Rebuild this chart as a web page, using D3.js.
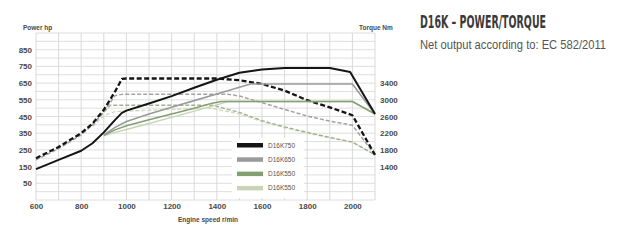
<!DOCTYPE html>
<html>
<head>
<meta charset="utf-8">
<script src="https://cdn.jsdelivr.net/npm/d3@7"></script>
<style>
  html, body { margin: 0; padding: 0; background: #fff; }
  svg { display: block; font-family: 'Liberation Sans', Arial, sans-serif; }
</style>
</head>
<body>
<div id="chart"></div>
<script>
// engine speed (r/min) / value pairs
const power750 = [[600, 135], [700, 190], [800, 245], [850, 290], [900, 355], [950, 430], [980, 472], [1000, 485],
  [1100, 528], [1200, 572], [1300, 622], [1400, 670], [1500, 712], [1600, 732], [1700, 740], [1800, 740],
  [1900, 740], [1990, 716], [2100, 465]]
const power650 = [[900, 340], [950, 385], [1000, 420], [1100, 465], [1200, 505], [1300, 545], [1400, 585],
  [1500, 625], [1550, 645], [2000, 645], [2100, 465]]
const power550a = [[900, 338], [950, 370], [1000, 395], [1100, 430], [1200, 465], [1300, 500], [1380, 530],
  [1420, 540], [2000, 540], [2100, 465]]
const power550b = [[900, 335], [950, 355], [1000, 372], [1100, 408], [1200, 445], [1300, 482], [1400, 520],
  [1450, 540], [2000, 540], [2100, 465]]

const torque750 = [[600, 1600], [700, 1870], [800, 2200], [850, 2430], [900, 2760], [950, 3200], [980, 3500],
  [1000, 3510], [1400, 3510], [1500, 3470], [1600, 3380], [1700, 3220], [1800, 2990], [1900, 2820],
  [2000, 2630], [2100, 1680]]
const torque650 = [[600, 1560], [700, 1830], [800, 2160], [850, 2400], [900, 2720], [950, 3100], [980, 3130],
  [1450, 3130], [1500, 3090], [1600, 2930], [1700, 2770], [1800, 2610], [1900, 2490], [2000, 2390], [2100, 1680]]
const torque550a = [[850, 2380], [900, 2700], [930, 2870], [1380, 2870], [1500, 2700], [1600, 2500],
  [1700, 2350], [1800, 2220], [1900, 2100], [2000, 1990], [2100, 1680]]
const torque550b = [[850, 2360], [900, 2620], [950, 2720], [1100, 2750], [1370, 2800], [1450, 2720],
  [1500, 2660], [1600, 2480], [1700, 2330], [1800, 2200], [1900, 2090], [2000, 1980], [2100, 1680]]

const seriesNames = ['D16K750', 'D16K650', 'D16K550', 'D16K550']
const seriesColors = ['#151515', '#9b9b9b', '#849f72', '#c9d4b6']

const rpmTicks = [600, 800, 1000, 1200, 1400, 1600, 1800, 2000]
const powerTicks = [50, 150, 250, 350, 450, 550, 650, 750, 850]
const torqueTicks = [1400, 1800, 2200, 2600, 3000, 3400]

const width = 640
const height = 240

const svg = d3.select('#chart')
  .append('svg')
  .attr('width', width)
  .attr('height', height)

const x = d3.scaleLinear().domain([600, 2100]).range([36, 375])
const yP = d3.scaleLinear().domain([-50, 950]).range([200, 33])
const yT = d3.scaleLinear().domain([600, 4600]).range([200, 33])

// grid
const grid = svg.append('g')
grid.selectAll('line.v')
  .data(d3.range(600, 2101, 100))
  .join('line')
  .attr('x1', d => x(d)).attr('x2', d => x(d))
  .attr('y1', yP(-50)).attr('y2', yP(950))
  .attr('stroke', '#cfcfcf').attr('stroke-width', 0.8)
grid.selectAll('line.h')
  .data(d3.range(-50, 951, 50))
  .join('line')
  .attr('x1', x(600)).attr('x2', x(2100))
  .attr('y1', d => yP(d)).attr('y2', d => yP(d))
  .attr('stroke', '#d6d6d6').attr('stroke-width', 0.8)

// axes, labels only
const styleAxis = g => {
  g.select('.domain').remove()
  g.selectAll('.tick line').remove()
  g.selectAll('text')
    .attr('font-family', "'Liberation Sans', Arial, sans-serif")
    .attr('font-size', 8)
    .attr('font-weight', 'bold')
    .attr('fill', '#4a4a4a')
}

svg.append('g')
  .attr('transform', 'translate(32, 0)')
  .call(d3.axisLeft(yP).tickValues(powerTicks).tickFormat(d3.format('d')).tickSize(0).tickPadding(0))
  .call(styleAxis)

svg.append('g')
  .attr('transform', 'translate(380, 0)')
  .call(d3.axisRight(yT).tickValues(torqueTicks).tickFormat(d3.format('d')).tickSize(0).tickPadding(0))
  .call(styleAxis)

svg.append('g')
  .attr('transform', 'translate(0, 203)')
  .call(d3.axisBottom(x).tickValues(rpmTicks).tickFormat(d3.format('d')).tickSize(0).tickPadding(0))
  .call(styleAxis)

const smallText = (tx, ty, str, anchor) => svg.append('text')
  .attr('x', tx).attr('y', ty)
  .attr('text-anchor', anchor || 'start')
  .attr('font-size', 6.5)
  .attr('font-weight', 'bold')
  .attr('fill', '#4a4a4a')
  .text(str)

smallText(23, 30, 'Power hp')
smallText(359, 30, 'Torque Nm')
smallText(178, 222, 'Engine speed r/min')

// curves
const lineP = d3.line().x(d => x(d[0])).y(d => yP(d[1]))
const lineT = d3.line().x(d => x(d[0])).y(d => yT(d[1]))

const torques = [
  { data: torque550b, color: '#cfd8bf', width: 1.3, dash: '4,2' },
  { data: torque550a, color: '#9fb08c', width: 1.3, dash: '4,2' },
  { data: torque650, color: '#a3a3a3', width: 1.5, dash: '4,2' },
  { data: torque750, color: seriesColors[0], width: 2.3, dash: '5,2.5' }
]
const powers = [
  { data: power550b, color: seriesColors[3], width: 1.4 },
  { data: power550a, color: seriesColors[2], width: 1.5 },
  { data: power650, color: seriesColors[1], width: 1.6 },
  { data: power750, color: seriesColors[0], width: 2 }
]

svg.append('g').selectAll('path')
  .data(torques)
  .join('path')
  .attr('d', d => lineT(d.data))
  .attr('fill', 'none')
  .attr('stroke', d => d.color)
  .attr('stroke-width', d => d.width)
  .attr('stroke-dasharray', d => d.dash)
  .attr('stroke-linejoin', 'round')

svg.append('g').selectAll('path')
  .data(powers)
  .join('path')
  .attr('d', d => lineP(d.data))
  .attr('fill', 'none')
  .attr('stroke', d => d.color)
  .attr('stroke-width', d => d.width)
  .attr('stroke-linejoin', 'round')

// legend
const legend = svg.append('g').attr('transform', 'translate(232, 138)')
legend.append('rect')
  .attr('width', 72).attr('height', 60)
  .attr('fill', '#fff')
const item = legend.selectAll('g')
  .data(seriesNames)
  .join('g')
  .attr('transform', (d, i) => `translate(0, ${7 + i * 14.3})`)
item.append('rect')
  .attr('x', 5).attr('y', -2)
  .attr('width', 26).attr('height', 4.5)
  .attr('fill', (d, i) => seriesColors[i])
item.append('text')
  .attr('x', 36).attr('y', 2.5)
  .attr('font-size', 6.5)
  .attr('fill', '#555')
  .text(d => d)

// title
svg.append('text')
  .attr('x', 420).attr('y', 28)
  .attr('font-family', "'Liberation Sans Narrow', 'DejaVu Sans Condensed', sans-serif")
  .attr('font-size', 18)
  .attr('font-weight', 'bold')
  .attr('fill', '#3a3a3a')
  .attr('textLength', 126)
  .attr('lengthAdjust', 'spacingAndGlyphs')
  .text('D16K – POWER/TORQUE')

svg.append('text')
  .attr('x', 420).attr('y', 49)
  .attr('font-size', 12)
  .attr('fill', '#555')
  .attr('textLength', 186)
  .attr('lengthAdjust', 'spacingAndGlyphs')
  .text('Net output according to: EC 582/2011')
</script>
</body>
</html>
